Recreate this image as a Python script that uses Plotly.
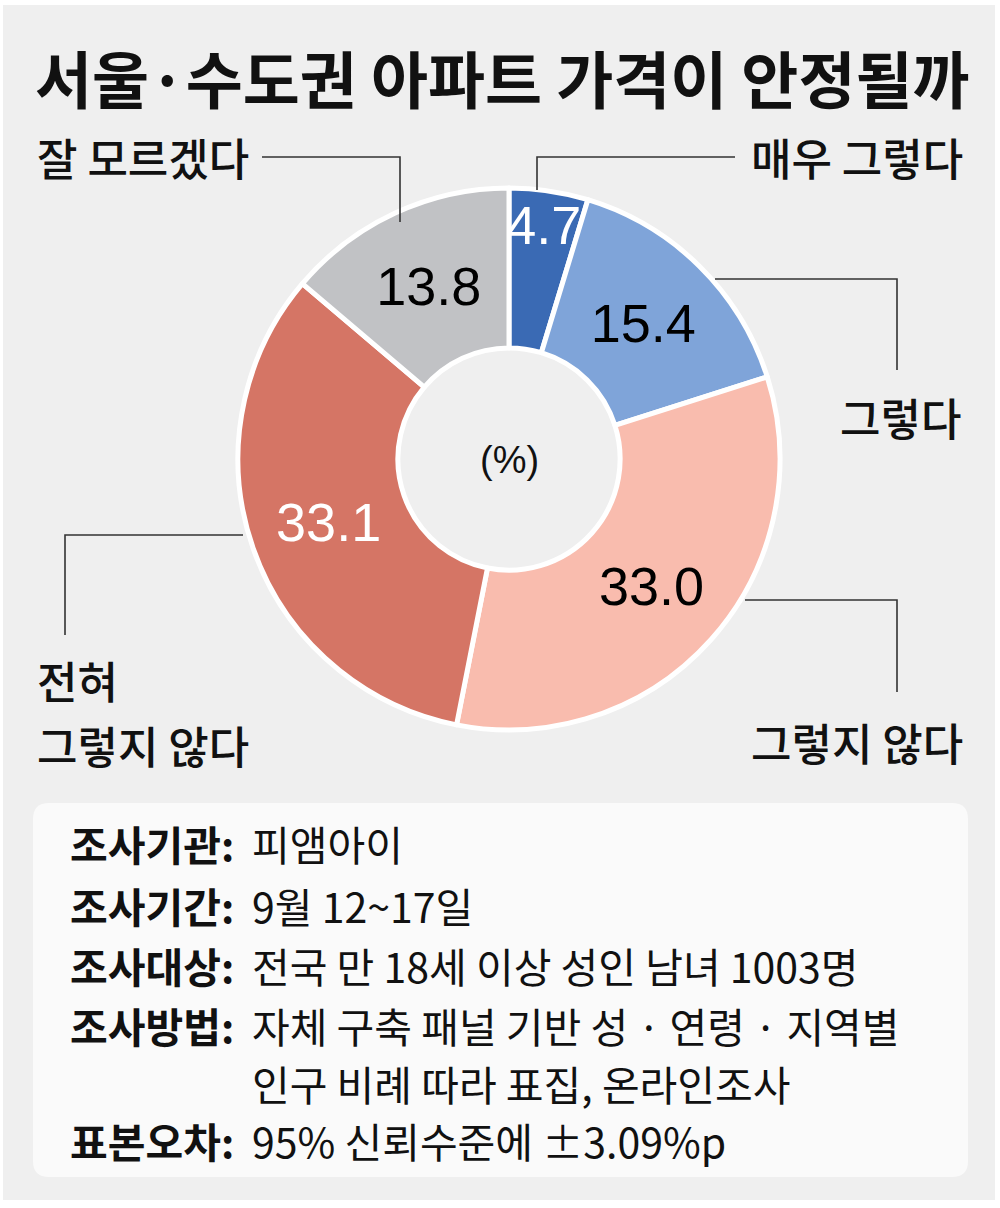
import plotly.graph_objects as go

W, H = 1000, 1208

# ---- data ----
categories = ["매우 그렇다", "그렇다", "그렇지 않다", "전혀 그렇지 않다", "잘 모르겠다"]
values = [4.7, 15.4, 33.0, 33.1, 13.8]
value_labels = ["4.7", "15.4", "33.0", "33.1", "13.8"]
colors = ["#3a6ab4", "#7fa4d9", "#f9bcae", "#d57565", "#c1c2c5"]
text_colors = ["#ffffff", "#000000", "#000000", "#ffffff", "#000000"]

title = "서울·수도권 아파트 가격이 안정될까"
info_keys = ["조사기관:", "조사기간:", "조사대상:", "조사방법:", "", "표본오차:"]
info_vals = ["피앰아이", "9월 12~17일", "전국 만 18세 이상 성인 남녀 1003명",
             "자체 구축 패널 기반 성 · 연령 · 지역별", "인구 비례 따라 표집, 온라인조사",
             "95% 신뢰수준에 ±3.09%p"]

KR = "Noto Sans CJK KR"
NUM = "Liberation Sans Narrow, Arial Narrow, Liberation Sans, Arial"


def px(x):
    return x / W


def py(y):
    return 1 - y / H


cx, cy, r = 509, 459, 271

fig = go.Figure()
fig.add_trace(go.Pie(
    labels=categories, values=values, text=value_labels,
    texttemplate="%{text}", textinfo="text",
    marker=dict(colors=colors, line=dict(color="white", width=5)),
    hole=0.41, sort=False, direction="clockwise", rotation=0,
    textposition="inside", insidetextorientation="horizontal",
    textfont=dict(family=NUM, size=54, color=text_colors),
    domain=dict(x=[px(cx - r), px(cx + r)], y=[py(cy + r), py(cy - r)]),
    showlegend=False, hoverinfo="skip",
))

shapes = []
shapes.append(dict(type="rect", xref="paper", yref="paper", x0=px(3), x1=px(995), y0=py(1200), y1=py(5),
                   fillcolor="#efefef", line=dict(width=0), layer="below"))
x0, x1, y0, y1, rr = 33, 968, 803, 1177, 16
rx, ry = rr / W, rr / H
X0, X1, Y0, Y1 = px(x0), px(x1), py(y1), py(y0)
path = (f"M {X0+rx},{Y1} L {X1-rx},{Y1} Q {X1},{Y1} {X1},{Y1-ry} L {X1},{Y0+ry} Q {X1},{Y0} {X1-rx},{Y0} "
        f"L {X0+rx},{Y0} Q {X0},{Y0} {X0},{Y0+ry} L {X0},{Y1-ry} Q {X0},{Y1} {X0+rx},{Y1} Z")
shapes.append(dict(type="path", xref="paper", yref="paper", path=path, fillcolor="#fafafa",
                   line=dict(width=0), layer="below"))

leaders = [
    [(262, 157), (400, 157), (400, 222)],
    [(735, 157), (537, 157), (537, 190)],
    [(715, 279), (897, 279), (897, 370)],
    [(745, 600), (897, 600), (897, 692)],
    [(243, 535), (65, 535), (65, 635)],
]
for pts in leaders:
    d = "M " + " L ".join(f"{px(a)},{py(b)}" for a, b in pts)
    shapes.append(dict(type="path", xref="paper", yref="paper", path=d,
                       line=dict(color="#333333", width=1.6), layer="above"))

ann = []


def add_text(t, x, y, size, anchor="left", bold=False, color="#111111", family=KR, weight=None):
    f = dict(family=family, size=size, color=color)
    if weight:
        f["weight"] = weight
    ann.append(dict(text=f"<b>{t}</b>" if bold else t, x=px(x), y=py(y), xref="paper", yref="paper",
                    xanchor=anchor, yanchor="middle", showarrow=False, font=f))


add_text(title, 33, 77, 62, bold=True)
add_text("잘 모르겠다", 35, 157, 44, weight=500)
add_text("매우 그렇다", 965, 157, 44, anchor="right", weight=500)
add_text("그렇다", 963, 417, 44, anchor="right", weight=500)
add_text("그렇지 않다", 965, 742, 44, anchor="right", weight=500)
add_text("전혀", 35, 680, 44, weight=500)
add_text("그렇지 않다", 35, 745, 44, weight=500)
add_text("(%)", cx, 460, 38, anchor="center", family=NUM)

ys = [843, 905, 965, 1025, 1083, 1140]
for k, v, y in zip(info_keys, info_vals, ys):
    if k:
        add_text(k, 68, y, 41, bold=True)
    add_text(v, 250, y, 41)

fig.update_layout(
    width=W, height=H, margin=dict(l=0, r=0, t=0, b=0),
    paper_bgcolor="white", plot_bgcolor="white",
    shapes=shapes, annotations=ann,
    uniformtext=dict(minsize=54, mode="show"),
)

fig.write_html("out.html", config={"displayModeBar": False},
               post_script="document.body.style.margin='0';")
